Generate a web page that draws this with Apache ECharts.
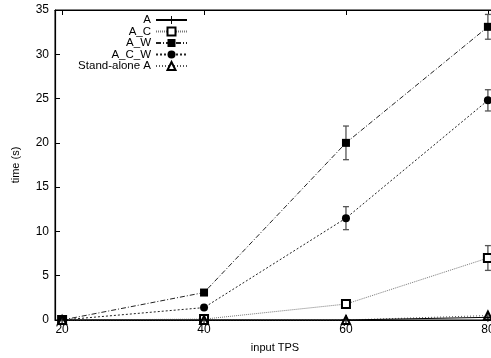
<!DOCTYPE html>
<html><head><meta charset="utf-8">
<script src="https://cdn.jsdelivr.net/npm/echarts@6/dist/echarts.min.js"></script>
<style>html,body{margin:0;padding:0;background:#fff}#c{width:491px;height:358px}</style>
</head><body><div id="c"></div>
<script>
var xValues = [20, 40, 60, 80];
var seriesNames = ['A', 'A_C', 'A_W', 'A_C_W', 'Stand-alone A'];
var valA = [0, 0, 0, 0.3];
var valAC = [0, 0.1, 1.8, 7.0];
var valAW = [0, 3.1, 20.0, 33.1];
var valACW = [0, 1.4, 11.5, 24.8];
var valStand = [0, 0, 0, 0.5];
var errAC = [0, 0, 0.3, 1.4];
var errAW = [0, 0, 1.9, 1.4];
var errACW = [0, 0, 1.3, 1.2];
var yTicks = [0, 5, 10, 15, 20, 25, 30, 35];
var xTicks = [20, 40, 60, 80];

var FONT = 'Liberation Sans';
function pts(v){ return xValues.map(function(x,i){ return [x, v[i]]; }); }
function errData(v,e){ var out=[]; xValues.forEach(function(x,i){ if(e[i]>0) out.push([x, v[i]-e[i], v[i]+e[i]]); }); return out; }
function errSeries(v,e){
  return {type:'custom', silent:true, z:1, data: errData(v,e), encode:{x:0,y:[1,2]},
    renderItem:function(params, api){
      var lo = api.coord([api.value(0), api.value(1)]);
      var hi = api.coord([api.value(0), api.value(2)]);
      var w = 3;
      var st = {stroke:'#555', lineWidth:1.3};
      return {type:'group', children:[
        {type:'line', shape:{x1:lo[0],y1:lo[1],x2:hi[0],y2:hi[1]}, style:st},
        {type:'line', shape:{x1:lo[0]-w,y1:lo[1],x2:lo[0]+w,y2:lo[1]}, style:st},
        {type:'line', shape:{x1:hi[0]-w,y1:hi[1],x2:hi[0]+w,y2:hi[1]}, style:st}
      ]};
    }};
}
var plus = 'path://M0,4.4h10v1.2h-10z M4.4,0h1.2v10h-1.2z';
var chart = echarts.init(document.getElementById('c'), null, {renderer:'canvas'});
chart.setOption({
  animation:false,
  textStyle:{fontFamily:FONT},
  grid:{left:55, top:10, width:440, height:310, outerBoundsMode:'none', containLabel:false,
    show:true, borderColor:'#000', borderWidth:1, backgroundColor:'transparent'},
  xAxis:[{
    type:'value', min:19, max:81, position:'bottom',
    name:'input TPS', nameLocation:'middle', nameGap:22,
    nameTextStyle:{fontFamily:FONT, fontSize:11, color:'#000'},
    axisLine:{lineStyle:{color:'#000', width:1.2}},
    axisTick:{inside:true, length:5, customValues:xTicks, lineStyle:{color:'#000'}},
    axisLabel:{customValues:xTicks, margin:4, fontFamily:FONT, fontSize:12, color:'#000'},
    splitLine:{show:false}
  },{
    type:'value', min:19, max:81, position:'top',
    axisLine:{lineStyle:{color:'#000', width:1.2}},
    axisTick:{inside:true, length:5, customValues:xTicks, lineStyle:{color:'#000'}},
    axisLabel:{show:false}, splitLine:{show:false}
  }],
  yAxis:{
    type:'value', min:0, max:35, interval:5,
    name:'time (s)', nameLocation:'middle', nameGap:34, nameRotate:90,
    nameTextStyle:{fontFamily:FONT, fontSize:11, color:'#000'},
    axisLine:{show:true, lineStyle:{color:'#000', width:1.2}},
    axisTick:{inside:true, length:5, lineStyle:{color:'#000'}},
    axisLabel:{margin:6, fontFamily:FONT, fontSize:12, color:'#000'},
    splitLine:{show:false}
  },
  legend:{
    orient:'vertical', align:'right', left:46, top:11, padding:[3,5,3,5],
    itemWidth:31, itemHeight:10, itemGap:-0.5,
    data:seriesNames,
    textStyle:{fontFamily:FONT, fontSize:11.5, color:'#000', width:100, align:'right', lineHeight:10}
  },
  series:[
    errSeries(valAC, errAC), errSeries(valAW, errAW), errSeries(valACW, errACW),
    {name:'A', type:'line', data:pts(valA), symbol:plus, symbolSize:9, z:5,
      lineStyle:{color:'#000', width:1}, itemStyle:{color:'#000'}},
    {name:'A_C', type:'line', data:pts(valAC), symbol:'emptyRect', symbolSize:8, z:4,
      lineStyle:{color:'#777', width:1, type:[1,1]}, itemStyle:{color:'#000', borderColor:'#000', borderWidth:1}},
    {name:'A_W', type:'line', data:pts(valAW), symbol:'rect', symbolSize:8, z:4,
      lineStyle:{color:'#222', width:1, type:[5,2,1,2]}, itemStyle:{color:'#000'}},
    {name:'A_C_W', type:'line', data:pts(valACW), symbol:'circle', symbolSize:8, z:4,
      lineStyle:{color:'#222', width:1, type:[2,2]}, itemStyle:{color:'#000'}},
    {name:'Stand-alone A', type:'line', data:pts(valStand), symbol:'emptyTriangle', symbolSize:8, z:4,
      lineStyle:{color:'#555', width:1, type:[1,2]}, itemStyle:{color:'#000', borderColor:'#000', borderWidth:1}}
  ]
});
</script></body></html>
